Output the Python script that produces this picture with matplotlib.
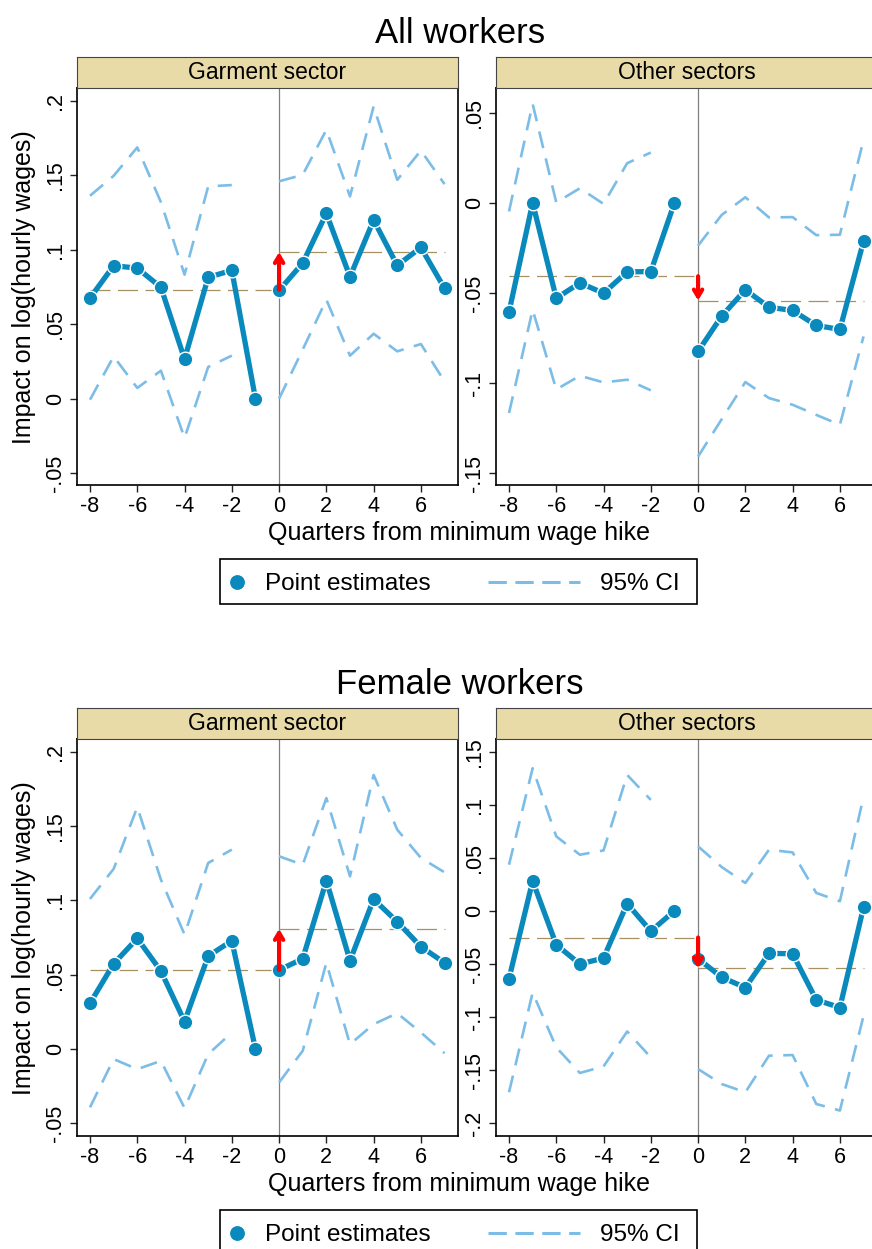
"""Event-study plots: impact of minimum wage hike on log hourly wages, garment vs other sectors."""
import numpy as np
import matplotlib
matplotlib.use('Agg')
import matplotlib.pyplot as plt
from matplotlib.patches import Rectangle
from matplotlib.lines import Line2D
from matplotlib.ticker import MultipleLocator, FuncFormatter

plt.rcParams['font.family'] = ['Liberation Sans', 'DejaVu Sans']
plt.rcParams['axes.unicode_minus'] = False

W, H = 872, 1249
PT_C = '#0a89bd'
CI_C = '#7cbde8'
MEAN_C = '#a89060'
STRIP_C = '#e8dba7'

quarters = np.arange(-8, 8)
nan = np.nan

# ---- All workers, garment sector
all_gar_est = [0.0676, 0.0893, 0.0877, 0.0748, 0.0266, 0.0815, 0.0862, 0.0,
               0.0727, 0.0911, 0.1244, 0.0819, 0.1200, 0.0895, 0.1016, 0.0741]
all_gar_hi = [0.1363, 0.1497, 0.1688, 0.1320, 0.0833, 0.1426, 0.1435, nan,
              0.1460, 0.1504, 0.1806, 0.1359, 0.1963, 0.1470, 0.1667, 0.1441]
all_gar_lo = [-0.0007, 0.0284, 0.0072, 0.0188, -0.0264, 0.0213, 0.0289, nan,
              0.0000, 0.0330, 0.0665, 0.0289, 0.0436, 0.0318, 0.0367, 0.0116]
all_gar_means = [0.0732, 0.0985]

# ---- All workers, other sectors
all_oth_est = [-0.0606, 0.0, -0.0529, -0.0444, -0.0501, -0.0383, -0.0381, 0.0,
               -0.0824, -0.0628, -0.0482, -0.0579, -0.0597, -0.0680, -0.0702, -0.0213]
all_oth_hi = [-0.0048, 0.0549, 0.0002, 0.0081, -0.0006, 0.0220, 0.0279, nan,
              -0.0237, -0.0067, 0.0031, -0.0081, -0.0079, -0.0179, -0.0177, 0.0349]
all_oth_lo = [-0.1166, -0.0593, -0.1035, -0.0959, -0.0996, -0.0981, -0.1040, nan,
              -0.1407, -0.1200, -0.0994, -0.1083, -0.1120, -0.1176, -0.1231, -0.0741]
all_oth_means = [-0.0407, -0.0542]

# ---- Female workers, garment sector
fem_gar_est = [0.0307, 0.0573, 0.0744, 0.0524, 0.0184, 0.0625, 0.0728, 0.0,
               0.0531, 0.0607, 0.1133, 0.0594, 0.1008, 0.0856, 0.0688, 0.0580]
fem_gar_hi = [0.1010, 0.1212, 0.1628, 0.1140, 0.0770, 0.1252, 0.1342, nan,
              0.1297, 0.1240, 0.1689, 0.1162, 0.1845, 0.1476, 0.1286, 0.1189]
fem_gar_lo = [-0.0394, -0.0069, -0.0137, -0.0081, -0.0399, -0.0036, 0.0110, nan,
              -0.0226, -0.0013, 0.0580, 0.0031, 0.0166, 0.0240, 0.0110, -0.0029]
fem_gar_means = [0.0531, 0.0808]

# ---- Female workers, other sectors
fem_oth_est = [-0.0639, 0.0282, -0.0319, -0.0501, -0.0445, 0.0069, -0.0191, 0.0,
               -0.0451, -0.0626, -0.0723, -0.0401, -0.0404, -0.0839, -0.0911, 0.0034]
fem_oth_hi = [0.0435, 0.1344, 0.0702, 0.0529, 0.0570, 0.1281, 0.1046, nan,
              0.0608, 0.0413, 0.0263, 0.0576, 0.0551, 0.0169, 0.0091, 0.1077]
fem_oth_lo = [-0.1710, -0.0770, -0.1287, -0.1528, -0.1466, -0.1137, -0.1381, nan,
              -0.1491, -0.1632, -0.1710, -0.1365, -0.1359, -0.1820, -0.1882, -0.0990]
fem_oth_means = [-0.0251, -0.0542]

ylims = {'all_gar': (-0.058, 0.2087), 'all_oth': (-0.1565, 0.0637),
         'fem_gar': (-0.0587, 0.2087), 'fem_oth': (-0.2122, 0.162)}


def stata_fmt(v, pos):
    if abs(v) < 1e-9:
        return '0'
    s = f'{v:.2f}'.rstrip('0').rstrip('.')
    if s.startswith('0.'):
        s = s[1:]
    elif s.startswith('-0.'):
        s = '-' + s[2:]
    return s


def fbox(x, y, w, h):
    # pixel box (top-left origin) -> figure fraction rect
    return [x / W, 1 - (y + h) / H, w / W, h / H]


def panel(rect, est, hi, lo, means, ylim, strip_label):
    ax = fig.add_axes(rect)
    est = np.array(est)
    ax.plot(quarters, hi, color=CI_C, lw=1.9, ls=(0, (6.5, 4)), zorder=2)
    ax.plot(quarters, lo, color=CI_C, lw=1.9, ls=(0, (6.5, 4)), zorder=2)
    ax.axvline(0, color='#808080', lw=0.9, zorder=1)
    ax.plot([-8, 0], [means[0]] * 2, color=MEAN_C, lw=0.9, ls=(0, (16, 6)), zorder=2)
    ax.plot([0, 7], [means[1]] * 2, color=MEAN_C, lw=0.9, ls=(0, (16, 6)), zorder=2)
    pre = quarters < 0
    for m in (pre, ~pre):
        ax.plot(quarters[m], est[m], color=PT_C, lw=3.8, marker='o', ms=10.5,
                mec='white', mew=1.0, zorder=4)
    ax.annotate('', xy=(0, means[1]), xytext=(0, means[0]),
                arrowprops=dict(arrowstyle='->,head_length=0.5,head_width=0.3',
                                color='red', lw=3.0, shrinkA=0, shrinkB=0), zorder=5)
    ax.set_xlim(-8.55, 7.57)
    ax.set_ylim(*ylim)
    ax.xaxis.set_major_locator(MultipleLocator(2))
    ax.xaxis.set_major_formatter(FuncFormatter(lambda v, p: f'{int(round(v))}'))
    ax.yaxis.set_major_locator(MultipleLocator(0.05))
    ax.yaxis.set_major_formatter(FuncFormatter(stata_fmt))
    ax.tick_params(length=5, width=1, labelsize=15.5, pad=3, color='#222222')
    for lbl in ax.get_yticklabels():
        lbl.set_rotation(90)
        lbl.set_va('center')
    for sp in ax.spines.values():
        sp.set_linewidth(1.2)
    # strip header
    sx = fig.add_axes([rect[0], rect[1] + rect[3], rect[2], 31 / H])
    sx.set_facecolor(STRIP_C)
    sx.set_xticks([]); sx.set_yticks([])
    for sp in sx.spines.values():
        sp.set_linewidth(0.8); sp.set_color('#444444')
    sx.text(0.5, 0.5, strip_label, ha='center', va='center', fontsize=16.5, transform=sx.transAxes)
    return ax


def legend_box(top):
    fig.add_artist(Rectangle((220 / W, 1 - (top + 45) / H), 477 / W, 45 / H,
                             transform=fig.transFigure, fill=False, ec='black', lw=1.2))
    yc = 1 - (top + 22.5) / H
    fig.add_artist(Line2D([237 / W], [yc], transform=fig.transFigure, marker='o', ms=11.5,
                          color=PT_C, mec='white', mew=0.8, ls='none'))
    fig.add_artist(Line2D([488 / W, 580 / W], [yc, yc], transform=fig.transFigure,
                          color=CI_C, lw=2.2, ls=(0, (6, 2.8))))
    yb = 1 - (top + 31) / H
    fig.text(265 / W, yb, 'Point estimates', fontsize=17.5, va='baseline')
    fig.text(600 / W, yb, '95% CI', fontsize=17.5, va='baseline')


fig = plt.figure(figsize=(W / 100, H / 100), dpi=100)

for off, title, data in [
        (0, 'All workers', [(all_gar_est, all_gar_hi, all_gar_lo, all_gar_means, ylims['all_gar']),
                            (all_oth_est, all_oth_hi, all_oth_lo, all_oth_means, ylims['all_oth'])]),
        (651, 'Female workers', [(fem_gar_est, fem_gar_hi, fem_gar_lo, fem_gar_means, ylims['fem_gar']),
                                 (fem_oth_est, fem_oth_hi, fem_oth_lo, fem_oth_means, ylims['fem_oth'])])]:
    fig.text(460 / W, 1 - (43 + off) / H, title, ha='center', va='baseline', fontsize=25)
    panel(fbox(77, 88 + off, 381, 397), *data[0], 'Garment sector')
    panel(fbox(496, 88 + off, 381, 397), *data[1], 'Other sectors')
    fig.text(24 / W, 1 - (287 + off) / H, 'Impact on log(hourly wages)', rotation=90,
             ha='center', va='center', fontsize=18)
    fig.text(459 / W, 1 - (540 + off) / H, 'Quarters from minimum wage hike',
             ha='center', va='baseline', fontsize=18)
    legend_box(559 + off)

fig.savefig('out.png', dpi=100)
